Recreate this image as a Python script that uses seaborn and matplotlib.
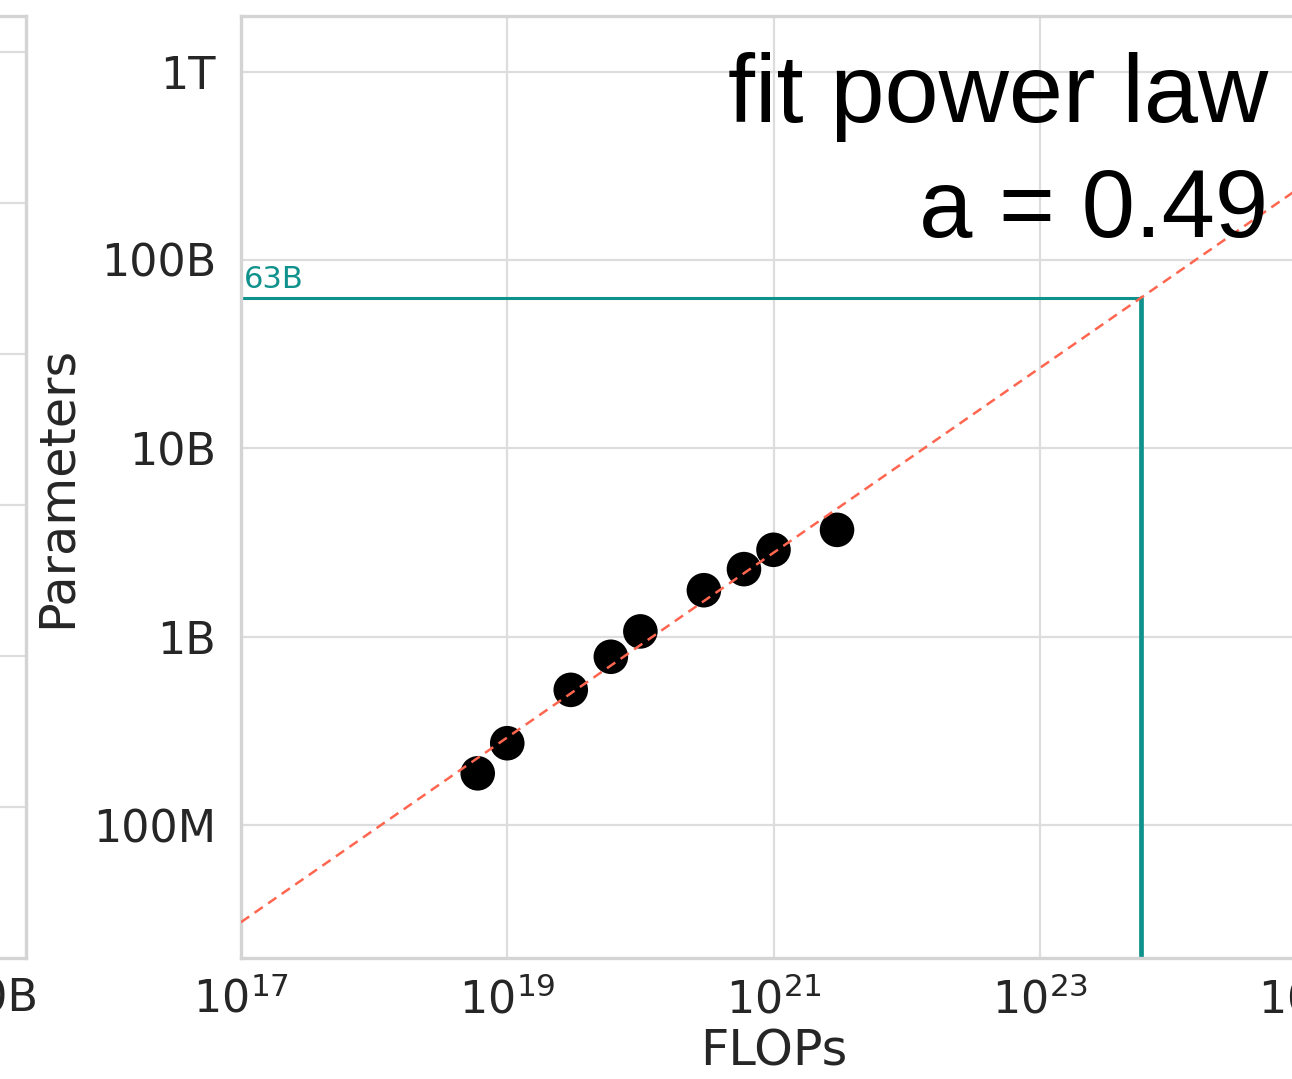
import numpy as np
import pandas as pd
import matplotlib
matplotlib.use("Agg")
import matplotlib.pyplot as plt
from matplotlib.ticker import FixedLocator, NullLocator
import seaborn as sns

# ---- data ----
flops = [6e18, 1e19, 3e19, 6e19, 1e20, 3e20, 6e20, 1e21, 3e21]
params = [1.89e8, 2.73e8, 5.24e8, 7.85e8, 1.07e9, 1.77e9, 2.29e9, 2.9e9, 3.7e9]

fit_exponent = 0.49          # a
target_flops = 5.76e23       # compute budget marked by the teal lines
target_params = 63e9         # "63B"
fit_flops_range = [1e17, 1e25]

x_ticks = [1e17, 1e19, 1e21, 1e23, 1e25]
y_ticks = [1e8, 1e9, 1e10, 1e11, 1e12]
y_tick_labels = ["100M", "1B", "10B", "100B", "1T"]

# partially visible neighbouring panel (left edge of the crop)
left_x_ticks = [1e8, 1e9, 1e10]
left_x_labels = ["100M", "1B", "10B"]
left_y_ticks = [1, 2, 3, 4, 5, 6]

# ---- style ----
sns.set_theme(style="whitegrid")
plt.rcParams["font.family"] = ["DejaVu Sans"]
plt.rcParams["mathtext.fontset"] = "dejavusans"

TXT = "#262626"
GRID = "#dddddd"
SPINE = "#d4d4d4"
TEAL = "#0f918c"
RED = "#ff6650"

W, H = 1292, 1079
fig = plt.figure(figsize=(W / 100, H / 100), dpi=100)

def px_box(x0, x1, ytop, ybot):
    return [x0 / W, 1 - ybot / H, (x1 - x0) / W, (ybot - ytop) / H]

ax = fig.add_axes(px_box(241, 1306, 16, 958))
axl = fig.add_axes(px_box(-900, 26, 16, 958))

for a in (ax, axl):
    for s in a.spines.values():
        s.set_color(SPINE)
        s.set_linewidth(2.4)
    a.grid(True, color=GRID, linewidth=1.6)
    a.tick_params(length=0, colors=TXT, labelsize=32)

# ---- main panel ----
df = pd.DataFrame({"FLOPs": flops, "Parameters": params})

fit_x = np.array(fit_flops_range)
fit_y = target_params * (fit_x / target_flops) ** fit_exponent
fit_df = pd.DataFrame({"FLOPs": fit_x, "Parameters": fit_y})

ax.set_xscale("log")
ax.set_yscale("log")
ax.set_xlim(fit_flops_range)
ax.set_ylim(1.98e7, 1.97e12)

sns.scatterplot(data=df, x="FLOPs", y="Parameters", ax=ax, s=620,
                color="black", edgecolor="none", zorder=3, legend=False)
sns.lineplot(data=fit_df, x="FLOPs", y="Parameters", ax=ax, color=RED,
             linestyle=(0, (4, 2.6)), linewidth=1.8, zorder=4, legend=False)

ymin = ax.get_ylim()[0]
xmin = ax.get_xlim()[0]
ax.plot([xmin, target_flops], [target_params, target_params],
        color=TEAL, linewidth=2.2, zorder=2)
ax.plot([target_flops, target_flops], [ymin, target_params],
        color=TEAL, linewidth=3.4, zorder=2)
ax.annotate("63B", xy=(xmin, target_params), xytext=(2, 3),
            textcoords="offset points", color=TEAL, fontsize=22,
            ha="left", va="bottom")

ax.xaxis.set_major_locator(FixedLocator(x_ticks))
ax.xaxis.set_minor_locator(NullLocator())
ax.yaxis.set_major_locator(FixedLocator(y_ticks))
ax.yaxis.set_minor_locator(NullLocator())
ax.set_yticklabels(y_tick_labels)
ax.tick_params(axis="y", pad=18)
ax.tick_params(axis="x", pad=14)
ax.set_xlabel("FLOPs", fontsize=35.5, color=TXT, labelpad=4)
ax.set_ylabel("Parameters", fontsize=35.5, color=TXT, labelpad=9)

# ---- neighbouring panel (mostly outside the crop) ----
axl.set_xscale("log")
axl.set_xlim(1.04e7, 1.27e10)
axl.set_ylim(0, 6.24)
axl.xaxis.set_major_locator(FixedLocator(left_x_ticks))
axl.xaxis.set_minor_locator(NullLocator())
axl.set_xticklabels(left_x_labels)
axl.set_yticks(left_y_ticks)
axl.grid(False, axis="x")
axl.tick_params(axis="x", pad=14)

# ---- annotation ----
fig.text(1268 / W, 1 - 122 / H, "fit power law", ha="right", va="baseline",
         fontsize=70, color="black", family=["Liberation Sans", "DejaVu Sans"])
fig.text(1268 / W, 1 - 237 / H, "a = 0.49", ha="right", va="baseline",
         fontsize=69, color="black", family=["Liberation Sans", "DejaVu Sans"])

fig.savefig("out.png", dpi=100)
